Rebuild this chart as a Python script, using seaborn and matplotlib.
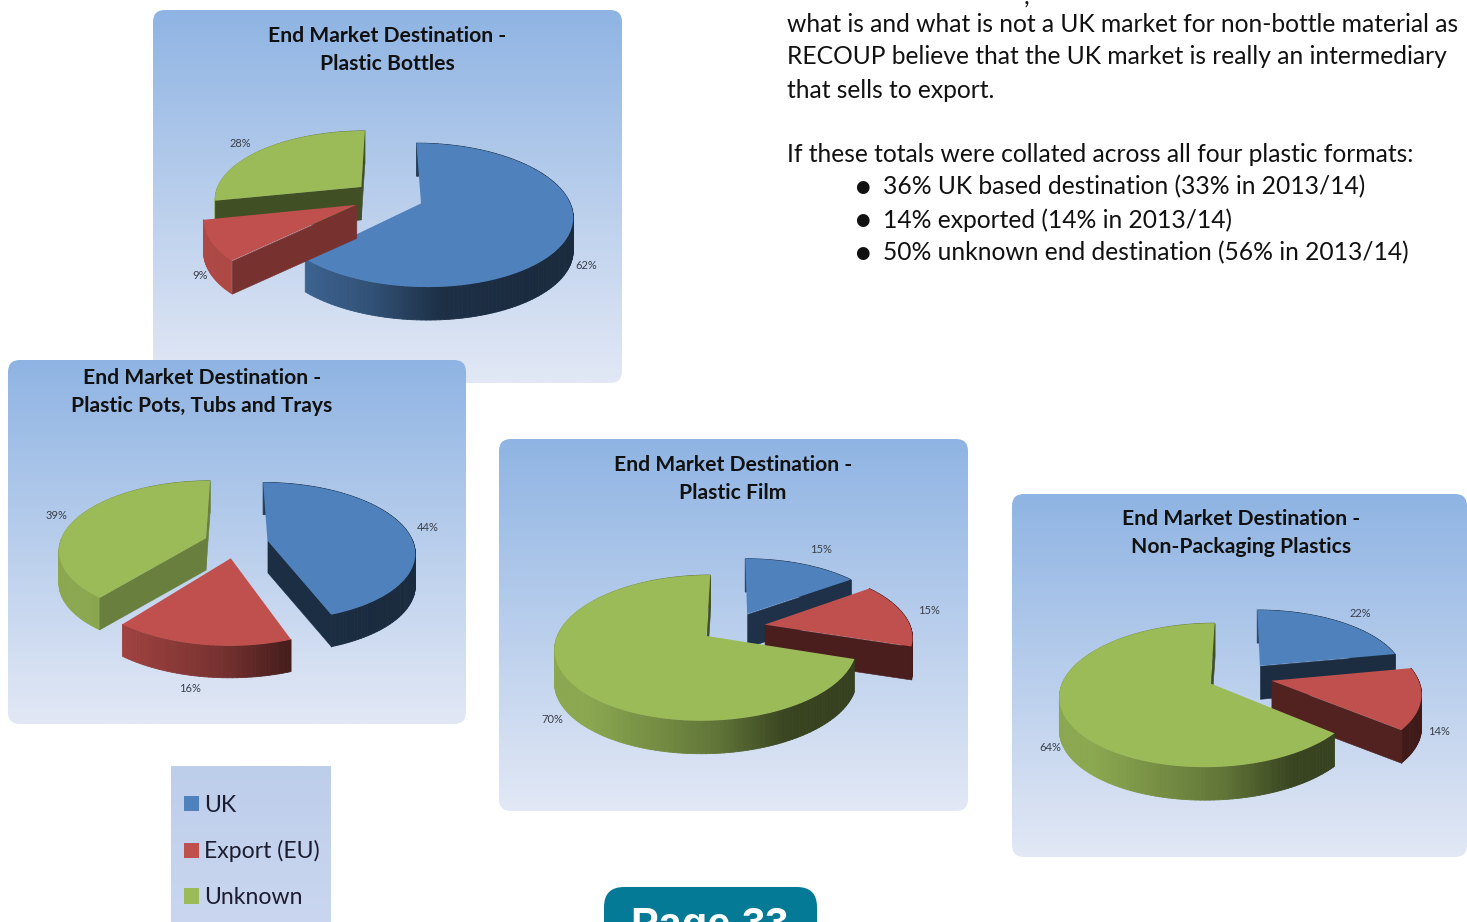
import numpy as np
import matplotlib
matplotlib.use("Agg")
import matplotlib.pyplot as plt
import matplotlib.transforms as mtransforms
from matplotlib.collections import PolyCollection
from matplotlib.patches import FancyBboxPatch, Patch
import seaborn as sns

sns.set_theme(style="white")
plt.rcParams["font.family"] = ["Lato", "DejaVu Sans"]

# ---- data ----
categories = ["UK", "Export (EU)", "Unknown"]
bottles = [62, 9, 28]
pots = [44, 16, 39]
film = [15, 15, 70]
non_packaging = [22, 14, 64]
title_bottles = "End Market Destination -\nPlastic Bottles"
title_pots = "End Market Destination -\nPlastic Pots, Tubs and Trays"
title_film = "End Market Destination -\nPlastic Film"
title_nonpack = "End Market Destination -\nNon-Packaging Plastics"
body_lines = ["what is and what is not a UK market for non-bottle material as",
              "RECOUP believe that the UK market is really an intermediary",
              "that sells to export.",
              "If these totals were collated across all four plastic formats:"]
bullets = ["36% UK based destination (33% in 2013/14)",
           "14% exported (14% in 2013/14)",
           "50% unknown end destination (56% in 2013/14)"]
page_label = "Page 33"

# ---- layout / style ----
W, H = 1467, 922
palette = sns.color_palette(["#4F81BD", "#C0504D", "#9BBB59"])
PX = mtransforms.Affine2D().scale(1, -1).translate(0, H)
TOP_C = np.array(matplotlib.colors.to_rgb("#8FB4E3"))
BOT_C = np.array(matplotlib.colors.to_rgb("#E2E8F5"))
PERSP_K = 0.16

charts = [
    dict(values=bottles, title=title_bottles, box=(153, 10, 622, 383), centre=(388, 197), rx=147, ry=68,
         explode=0.24, depth=33, cut=(.38, .62, .42), title_x=387, title_y=36,
         label_xy=[(586, 265), (200, 275), (240, 143)]),
    dict(values=pots, title=title_pots, box=(8, 360, 466, 724), centre=(236, 543), rx=146, ry=68,
         explode=0.22, depth=32, cut=(.36, .5, .68), title_x=202, title_y=378,
         label_xy=[(428, 527), (190, 688), (57, 515)]),
    dict(values=film, title=title_film, box=(499, 439, 968, 811), centre=(733, 627), rx=146, ry=68,
         explode=0.22, depth=33, cut=(.38, .38, .42), title_x=733, title_y=465,
         label_xy=[(821, 549), (929, 610), (552, 719)]),
    dict(values=non_packaging, title=title_nonpack, box=(1012, 494, 1467, 857), centre=(1240, 677), rx=146, ry=68,
         explode=0.22, depth=33, cut=(.35, .42, .42), title_x=1241, title_y=519,
         label_xy=[(1360, 613), (1439, 731), (1050, 747)]),
]


class Persp(mtransforms.Transform):
    input_dims = output_dims = 2
    is_separable = False
    has_inverse = False

    def transform_non_affine(self, xy):
        xy = np.asarray(xy, float)
        s = 1.0 / (1.0 + PERSP_K * xy[:, 1])
        return np.column_stack([xy[:, 0] * s, xy[:, 1] * s])


persp = Persp()


def wall_shade(u):
    return np.interp(u, [-1.0, -0.1, 0.35, 1.0], [0.90, 0.62, 0.37, 0.33])


def draw_chart(cfg):
    x0, y0, x1, y1 = cfg["box"]
    cx, cy = cfg["centre"]
    rx, ry = cfg["rx"], cfg["ry"]
    ax = fig.add_axes([x0 / W, 1 - y1 / H, (x1 - x0) / W, (y1 - y0) / H])
    vals = cfg["values"]
    wedges, _ = ax.pie(vals, colors=palette, startangle=90, counterclock=False,
                       explode=[cfg["explode"]] * len(vals), wedgeprops=dict(linewidth=0))
    xl = ((x0 - cx) / rx, (x1 - cx) / rx)
    yl = ((cy - y1) / ry, (cy - y0) / ry)
    # panel with a vertical gradient and rounded corners
    grad = np.linspace(0, 1, 256)[:, None, None] * (BOT_C - TOP_C) + TOP_C
    im = ax.imshow(grad, extent=(xl[0], xl[1], yl[0], yl[1]), origin="upper", aspect="auto", zorder=0)
    clip = FancyBboxPatch((x0 + 12, y0 + 12), x1 - x0 - 24, y1 - y0 - 24,
                          boxstyle="round,pad=12,rounding_size=12", transform=PX, fc="none", ec="none")
    im.set_clip_path(clip)
    ax.set_aspect("auto")
    ax.set_axis_off()
    d = cfg["depth"] / ry
    order = np.argsort([-w.center[1] for w in wedges])
    for rank, i in enumerate(order):
        w = wedges[i]
        col = np.array(palette[i])
        c = np.array(w.center)
        th = np.radians(np.arange(w.theta1, w.theta2 + 1.5, 1.5))
        th[-1] = min(th[-1], np.radians(w.theta2))
        rim = c + w.r * np.column_stack([np.cos(th), np.sin(th)])
        rim_p = persp.transform_non_affine(rim)
        z = 2 * rank + 1
        verts, cols = [], []
        for a, b in zip(rim_p[:-1], rim_p[1:]):
            verts.append([a, b, b - [0, d], a - [0, d]])
            cols.append(np.clip(col * wall_shade((a[0] + b[0]) / 2), 0, 1))
        ax.add_collection(PolyCollection(verts, facecolors=cols, edgecolors=cols,
                                         linewidths=0.6, zorder=z, clip_on=False))
        # cut faces that look towards the viewer sit over the rim wall
        tip = persp.transform_non_affine(c[None, :])[0]
        cut_col = col * cfg["cut"][i]
        faces = []
        if np.sin(np.radians(w.theta1 - 90)) < 0:
            faces.append([tip, rim_p[0], rim_p[0] - [0, d], tip - [0, d]])
        if np.sin(np.radians(w.theta2 + 90)) < 0:
            faces.append([tip, rim_p[-1], rim_p[-1] - [0, d], tip - [0, d]])
        if faces:
            ax.add_collection(PolyCollection(faces, facecolors=[cut_col], edgecolors=[cut_col],
                                             linewidths=0.4, zorder=z + 0.5, clip_on=False))
        w.set_transform(persp + ax.transData)
        w.set_zorder(z + 1)
    ax.set_xlim(*xl)
    ax.set_ylim(*yl)
    for v, (lx, ly) in zip(vals, cfg["label_xy"]):
        ax.text(lx, ly, f"{v}%", transform=PX, ha="center", va="center", fontsize=8,
                color="#3a3f4a", zorder=50, clip_on=False)
    for k, line in enumerate(cfg["title"].split("\n")):
        ax.text(cfg["title_x"], cfg["title_y"] + 28 * k, line, transform=PX,
                ha="center", va="center", fontsize=15.2, fontweight="bold", color="#111111", zorder=50)
    return ax


fig = plt.figure(figsize=(W / 100, H / 100), dpi=100, facecolor="white")

for cfg in charts:
    draw_chart(cfg)

# text and page furniture on an overlay
ov = fig.add_axes([0, 0, 1, 1], facecolor="none")
ov.set_xlim(0, W)
ov.set_ylim(H, 0)
ov.set_axis_off()
TXT = dict(fontsize=17.7, color="#111111", va="center", ha="left")
ov.text(1024, -3, ",", fontsize=17.7, color="#111111", va="center", ha="left")
for line, y, in zip(body_lines, (25, 57, 90, 155)):
    ov.text(787, y, line, **TXT)
for line, y in zip(bullets, (187, 220, 253)):
    ov.text(855, y, "\u25cf", fontsize=12, family="DejaVu Sans", color="#111111", va="center", ha="left")
    ov.text(883, y, line, **TXT)

# legend panel
lax = fig.add_axes([171 / W, 0, 160 / W, (922 - 766) / H])
L0 = np.array(matplotlib.colors.to_rgb("#BDCEEB"))
L1 = np.array(matplotlib.colors.to_rgb("#CAD6EF"))
lax.imshow(np.linspace(0, 1, 64)[:, None, None] * (L1 - L0) + L0, aspect="auto", extent=(0, 1, 0, 1), origin="upper")
lax.set_axis_off()
handles = [Patch(facecolor=c, edgecolor="none", label=n) for c, n in zip(palette, categories)]
lax.legend(handles=handles, loc="upper left", bbox_to_anchor=(0.01, 0.89), frameon=False, fontsize=16.6,
           handlelength=0.66, handleheight=0.66, handletextpad=0.2, labelspacing=1.07, borderpad=0,
           borderaxespad=0.5, labelcolor="#1c1c30")

# page tab
ov.add_patch(FancyBboxPatch((624, 907), 173, 60, boxstyle="round,pad=20,rounding_size=20",
                            fc="#047A96", ec="none"))
ov.text(710, 937, page_label, color="white", fontsize=30, fontweight="bold", family="Liberation Sans",
        ha="center", va="baseline")

fig.savefig("out.png", dpi=100, facecolor="white")
